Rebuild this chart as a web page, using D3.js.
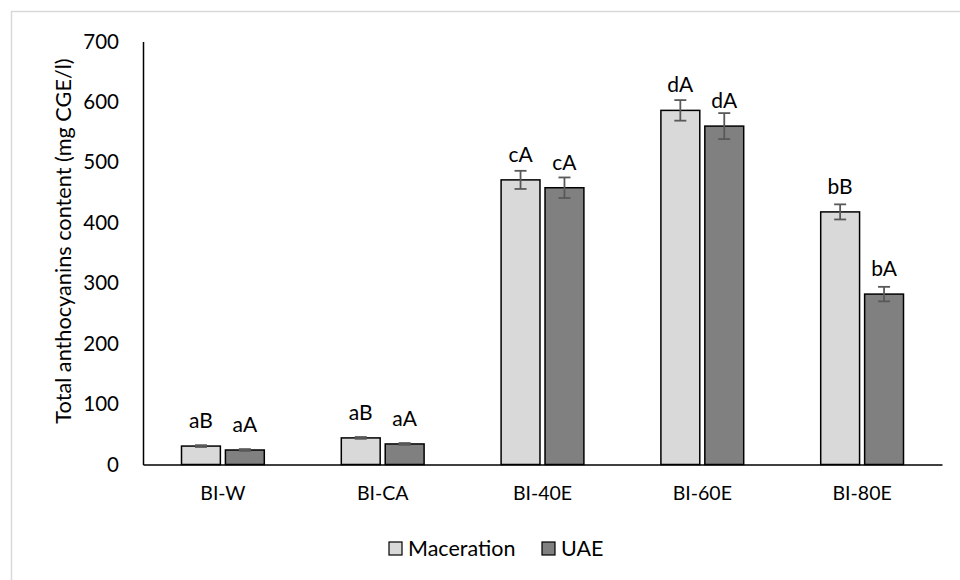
<!DOCTYPE html>
<html>
<head>
<meta charset="utf-8">
<script src="https://cdn.jsdelivr.net/npm/d3@7"></script>
<style>
  body { margin: 0; background: #fff; }
  text { font-family: Lato, "Open Sans", sans-serif; fill: #000; }
</style>
</head>
<body>
<div id="chart"></div>
<script>
// Chart data
var categories = ["BI-W", "BI-CA", "BI-40E", "BI-60E", "BI-80E"];
var seriesNames = ["Maceration", "UAE"];
var macerationValues = [30.5, 44, 471, 586, 418];
var macerationErrors = [1.5, 1.5, 15, 17, 12.5];
var uaeValues = [24, 34, 458, 560, 282];
var uaeErrors = [1.5, 1.5, 17, 21.5, 12];
var macerationLabels = ["aB", "aB", "cA", "dA", "bB"];
var uaeLabels = ["aA", "aA", "cA", "dA", "bA"];
var yTicks = [0, 100, 200, 300, 400, 500, 600, 700];
var colors = ["#d9d9d9", "#808080"];

var width = 960, height = 580;
var margin = { top: 41.5, right: 18, bottom: 115.5, left: 143 };

var svg = d3.select("#chart").append("svg")
  .attr("width", width)
  .attr("height", height);

// Outer chart frame (only top and left edges fall inside the picture)
svg.append("rect")
  .attr("x", 11.5).attr("y", 11.5)
  .attr("width", 1000).attr("height", 1000)
  .attr("fill", "none")
  .attr("stroke", "#d9d9d9")
  .attr("stroke-width", 1.5);

var plotW = width - margin.left - margin.right;
var plotH = height - margin.top - margin.bottom;

var g = svg.append("g").attr("transform", "translate(" + margin.left + "," + margin.top + ")");

var x0 = d3.scaleBand().domain(categories).range([0, plotW]).paddingInner(0).paddingOuter(0);
var x1 = d3.scaleBand().domain(seriesNames).range([38.5, x0.bandwidth() - 38.5]).paddingInner(0.115);
var y = d3.scaleLinear().domain([0, 700]).range([plotH, 0]);

// Build rows from the arrays
var rows = categories.map(function(c, i) {
  return [
    { cat: c, series: seriesNames[0], value: macerationValues[i], err: macerationErrors[i], label: macerationLabels[i], color: colors[0] },
    { cat: c, series: seriesNames[1], value: uaeValues[i], err: uaeErrors[i], label: uaeLabels[i], color: colors[1] }
  ];
});
var flat = d3.merge(rows);

// Bars
g.selectAll(".bar")
  .data(flat)
  .enter()
  .append("rect")
  .attr("class", "bar")
  .attr("x", function(d) { return x0(d.cat) + x1(d.series); })
  .attr("y", function(d) { return y(d.value); })
  .attr("width", x1.bandwidth())
  .attr("height", function(d) { return y(0) - y(d.value); })
  .attr("fill", function(d) { return d.color; })
  .attr("stroke", "#000")
  .attr("stroke-width", 1.5);

// Error bars
var err = g.selectAll(".err")
  .data(flat)
  .enter()
  .append("g")
  .attr("class", "err")
  .attr("stroke", "#595959")
  .attr("stroke-width", 1.8);
err.append("line")
  .attr("x1", function(d) { return x0(d.cat) + x1(d.series) + x1.bandwidth() / 2; })
  .attr("x2", function(d) { return x0(d.cat) + x1(d.series) + x1.bandwidth() / 2; })
  .attr("y1", function(d) { return y(d.value + d.err); })
  .attr("y2", function(d) { return y(d.value - d.err); });
[1, -1].forEach(function(s) {
  err.append("line")
    .attr("x1", function(d) { return x0(d.cat) + x1(d.series) + x1.bandwidth() / 2 - 6; })
    .attr("x2", function(d) { return x0(d.cat) + x1(d.series) + x1.bandwidth() / 2 + 6; })
    .attr("y1", function(d) { return y(d.value + s * d.err); })
    .attr("y2", function(d) { return y(d.value + s * d.err); });
});

// Letter labels above the bars
g.selectAll(".lbl")
  .data(flat)
  .enter()
  .append("text")
  .attr("class", "lbl")
  .attr("x", function(d) { return x0(d.cat) + x1(d.series) + x1.bandwidth() / 2; })
  .attr("y", function(d) { return y(d.value) - 18; })
  .attr("text-anchor", "middle")
  .style("font-size", "21px")
  .text(function(d) { return d.label; });

// Y axis
var yAxis = d3.axisLeft(y).tickValues(yTicks).tickSize(0).tickPadding(24);
var ya = g.append("g").call(yAxis);
ya.select(".domain").attr("stroke", "#000").attr("stroke-width", 1.5);
ya.selectAll(".tick text").style("font-size", "20.5px").style("font-family", "Lato, 'Open Sans', sans-serif").attr("fill", "#000");

// X axis
var xAxis = d3.axisBottom(x0).tickSize(0).tickPadding(22);
var xa = g.append("g").attr("transform", "translate(0," + plotH + ")").call(xAxis);
xa.select(".domain").attr("stroke", "#000").attr("stroke-width", 1.5);
xa.selectAll(".tick text").style("font-size", "19.5px").style("font-family", "Lato, 'Open Sans', sans-serif").attr("fill", "#000");

// Y axis title
svg.append("text")
  .attr("transform", "translate(71,241) rotate(-90)")
  .attr("text-anchor", "middle")
  .style("font-size", "21.7px")
  .text("Total anthocyanins content (mg CGE/l)");

// Legend
var legend = svg.append("g").attr("transform", "translate(389,542)");
var legendX = [0, 153];
seriesNames.forEach(function(name, i) {
  var item = legend.append("g").attr("transform", "translate(" + legendX[i] + ",0)");
  item.append("rect")
    .attr("width", 13).attr("height", 13)
    .attr("fill", colors[i])
    .attr("stroke", "#000")
    .attr("stroke-width", 1.2);
  item.append("text")
    .attr("x", 19).attr("y", 14)
    .style("font-size", "21.5px")
    .text(name);
});
</script>
</body>
</html>
